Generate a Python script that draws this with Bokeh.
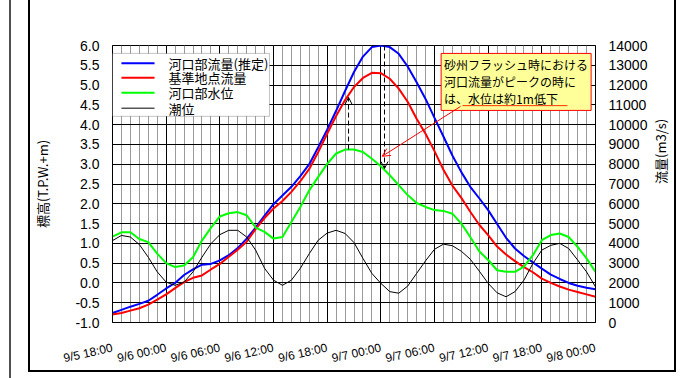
from math import pi

from bokeh.plotting import figure
from bokeh.models import (Range1d, LinearAxis, FixedTicker, Label, Arrow, OpenHead,
                          BoxAnnotation, NumeralTickFormatter, InlineStyleSheet)
from bokeh.embed import file_html
from bokeh.resources import INLINE

# hours elapsed since 9/5 18:00 (hourly records)
HOURS = list(range(55))

X_TICKS = [0, 6, 12, 18, 24, 30, 36, 42, 48, 54]
X_TICK_LABELS = ["9/5 18:00", "9/6 00:00", "9/6 06:00", "9/6 12:00", "9/6 18:00",
                 "9/7 00:00", "9/7 06:00", "9/7 12:00", "9/7 18:00", "9/8 00:00"]
Y_TICKS = [-1.0, -0.5, 0.0, 0.5, 1.0, 1.5, 2.0, 2.5, 3.0, 3.5, 4.0, 4.5, 5.0, 5.5, 6.0]
FLOW_TICKS = [0, 1000, 2000, 3000, 4000, 5000, 6000, 7000, 8000, 9000, 10000,
              11000, 12000, 13000, 14000]

SERIES_NAMES = ["河口部流量(推定)", "基準地点流量", "河口部水位", "潮位"]
SERIES_COLORS = ["#0000FF", "#FF0000", "#00FF00", "#000000"]
SERIES_WIDTHS = [2, 2, 2, 1]

# 河口部流量(推定)  [m3/s]
FLOW_MOUTH = [480, 640, 800, 940, 1100, 1400, 1720, 2000, 2400, 2680,
              2920, 2960, 3140, 3400, 3760, 4240, 4800, 5400, 5980, 6420,
              6860, 7400, 8000, 8860, 9740, 10700, 11700, 12660, 13440, 13920,
              14000, 13920, 13580, 12940, 12140, 11300, 10340, 9400, 8440, 7600,
              6860, 6280, 5680, 4980, 4280, 3740, 3360, 3040, 2720, 2420,
              2200, 2000, 1860, 1760, 1680]

# 基準地点流量  [m3/s]
FLOW_BASE = [400, 480, 600, 720, 900, 1160, 1420, 1740, 2040, 2260,
             2380, 2680, 2960, 3320, 3680, 4080, 4720, 5280, 5760, 6140,
             6600, 7140, 7760, 8620, 9540, 10440, 11240, 11900, 12360, 12620,
             12600, 12320, 11820, 11160, 10300, 9540, 8660, 7720, 6920, 6300,
             5600, 4940, 4420, 3840, 3440, 3100, 2800, 2540, 2220, 2000,
             1820, 1660, 1540, 1420, 1300]

# 河口部水位  [T.P.+m]
LEVEL_MOUTH = [1.17, 1.28, 1.28, 1.11, 1.03, 0.74, 0.50, 0.40, 0.44, 0.65,
               1.07, 1.39, 1.68, 1.76, 1.79, 1.71, 1.40, 1.29, 1.12, 1.16,
               1.54, 1.92, 2.34, 2.68, 3.01, 3.27, 3.37, 3.37, 3.31, 3.14,
               2.95, 2.72, 2.47, 2.22, 2.02, 1.92, 1.84, 1.82, 1.75, 1.50,
               1.16, 0.80, 0.58, 0.32, 0.28, 0.28, 0.41, 0.70, 1.08, 1.21,
               1.25, 1.16, 0.91, 0.62, 0.28]

# 潮位  [T.P.+m]
TIDE = [1.07, 1.20, 1.16, 0.97, 0.65, 0.28, 0.02, -0.06, 0.02, 0.28,
        0.65, 0.99, 1.22, 1.33, 1.33, 1.16, 0.83, 0.37, 0.07, -0.06,
        0.07, 0.37, 0.74, 1.08, 1.26, 1.33, 1.25, 1.02, 0.62, 0.24,
        -0.01, -0.22, -0.26, -0.08, 0.24, 0.56, 0.85, 0.98, 0.94, 0.80,
        0.60, 0.30, -0.01, -0.25, -0.35, -0.22, 0.07, 0.49, 0.83, 0.95,
        1.00, 0.87, 0.58, 0.28, -0.10]

JP = "Noto Sans CJK JP"
NUM = "Liberation Sans"

p = figure(width=697, height=378, output_backend="svg", toolbar_location=None,
           x_range=Range1d(0, 54), y_range=Range1d(-1, 6),
           min_border_left=112, min_border_right=102,
           min_border_top=45, min_border_bottom=56)
p.background_fill_color = "white"
p.border_fill_color = "white"
p.outline_line_color = "black"
p.outline_line_width = 1

# chart-area border and the page rule to its left, drawn around the canvas
p.stylesheets = [InlineStyleSheet(css="""
:host { position: relative; }
:host::after {
  content: ""; position: absolute; left: 28px; top: -10px;
  width: 648px; height: 382px; border: 2px solid #000;
  box-sizing: border-box; pointer-events: none; z-index: 100;
}
:host::before {
  content: ""; position: absolute; left: 9px; top: 0px;
  width: 2px; height: 378px; background: #505050;
  pointer-events: none; z-index: 100;
}
""")]

# secondary scale for discharge
p.extra_y_ranges = {"flow": Range1d(0, 14000)}

# grids: hourly minor verticals, 6-hourly majors, 0.5 m horizontals
xticker = FixedTicker(ticks=X_TICKS, minor_ticks=HOURS)
p.xaxis.ticker = xticker
p.xgrid.ticker = xticker
p.xgrid.grid_line_color = "black"
p.xgrid.grid_line_width = 1
p.xgrid.minor_grid_line_color = "#9a9a9a"
p.xgrid.minor_grid_line_width = 1

yticker = FixedTicker(ticks=Y_TICKS)
left = p.yaxis[0]
left.ticker = yticker
p.ygrid.ticker = yticker
p.ygrid.grid_line_color = "black"
p.ygrid.grid_line_width = 1

# bottom axis
xa = p.xaxis[0]
xa.major_label_overrides = dict(zip(X_TICKS, X_TICK_LABELS))
xa.major_label_orientation = 0.22
xa.major_label_text_font = NUM
xa.major_label_text_font_size = "12px"
xa.major_label_text_color = "black"
xa.major_label_standoff = 25
xa.major_tick_in = 0
xa.major_tick_out = 0
xa.minor_tick_in = 0
xa.minor_tick_out = 0
xa.axis_line_color = "black"

# left axis: elevation
left.formatter = NumeralTickFormatter(format="0.0")
left.major_label_text_font = NUM
left.major_label_text_font_size = "14px"
left.major_label_text_color = "black"
left.major_label_standoff = 13
left.major_tick_in = 0
left.major_tick_out = 0
left.minor_tick_in = 0
left.minor_tick_out = 0
left.axis_line_color = "black"
left.axis_label = "標高(T.P.W.+m)"
left.axis_label_text_font = JP
left.axis_label_text_font_size = "13px"
left.axis_label_text_font_style = "normal"
left.axis_label_text_color = "black"
left.axis_label_standoff = 20

# right axis: discharge
right = LinearAxis(y_range_name="flow", ticker=FixedTicker(ticks=FLOW_TICKS))
right.major_label_text_font = NUM
right.major_label_text_font_size = "14px"
right.major_label_text_color = "black"
right.major_label_standoff = 13
right.major_tick_in = 0
right.major_tick_out = 0
right.minor_tick_in = 0
right.minor_tick_out = 0
right.axis_line_color = "black"
right.axis_label = "流量(m3/s)"
right.axis_label_text_font = JP
right.axis_label_text_font_size = "13px"
right.axis_label_text_font_style = "normal"
right.axis_label_text_color = "black"
right.axis_label_standoff = 10
if "axis_label_orientation" in right.properties():
    right.axis_label_orientation = pi / 2
p.add_layout(right, "right")

# series
p.line(HOURS, FLOW_MOUTH, y_range_name="flow",
       line_color=SERIES_COLORS[0], line_width=SERIES_WIDTHS[0])
p.line(HOURS, FLOW_BASE, y_range_name="flow",
       line_color=SERIES_COLORS[1], line_width=SERIES_WIDTHS[1])
p.line(HOURS, LEVEL_MOUTH, line_color=SERIES_COLORS[2], line_width=SERIES_WIDTHS[2])
p.line(HOURS, TIDE, line_color=SERIES_COLORS[3], line_width=SERIES_WIDTHS[3])

# legend panel (compact rows, anchored in the upper-left corner of the plot)
p.add_layout(BoxAnnotation(left=0, right=17.55, top=5.80, bottom=4.21,
                           fill_color="white", fill_alpha=1,
                           line_color="#404040", line_width=1))
row_y = [5.553, 5.184, 4.805, 4.416]
for name, color, width, ry in zip(SERIES_NAMES, SERIES_COLORS, SERIES_WIDTHS, row_y):
    p.add_layout(Arrow(x_start=1.0, y_start=ry, x_end=4.7, y_end=ry,
                       line_color=color, line_width=width, end=None))
    p.add_layout(Label(x=6.26, y=ry, text=name, text_font=JP, text_font_size="13px",
                       text_color="black", text_baseline="middle", text_align="left"))

# level rise at the green peak vs. drop at the discharge peak
p.add_layout(Arrow(x_start=26.39, y_start=3.37, x_end=26.39, y_end=4.69,
                   line_color="black", line_width=1, line_dash="5 3",
                   end=OpenHead(size=7, line_color="black", line_width=1)))
p.add_layout(Arrow(x_start=30.41, y_start=6.0, x_end=30.41, y_end=2.89,
                   line_color="black", line_width=1, line_dash="5 3",
                   end=OpenHead(size=7, line_color="black", line_width=1)))

# callout
p.add_layout(Label(x=36.74, y=5.80,
                   text="砂州フラッシュ時における\n河口流量がピークの時に\nは、水位は約1m低下",
                   anchor="top_left", text_font=JP, text_font_size="12px",
                   text_color="black", text_line_height=1.0,
                   background_fill_color="#FFFF99", background_fill_alpha=1,
                   border_line_color="#FF0000", border_line_width=1, padding=3))
p.add_layout(Arrow(x_start=50.87, y_start=4.48, x_end=39.13, y_end=4.48,
                   line_color="#FF3300", line_width=1, end=None))
p.add_layout(Arrow(x_start=38.91, y_start=4.46, x_end=30.15, y_end=3.20,
                   line_color="#FF0000", line_width=1,
                   end=OpenHead(size=8, line_color="#FF0000", line_width=1)))

open("out.html", "w").write(file_html(p, INLINE))
